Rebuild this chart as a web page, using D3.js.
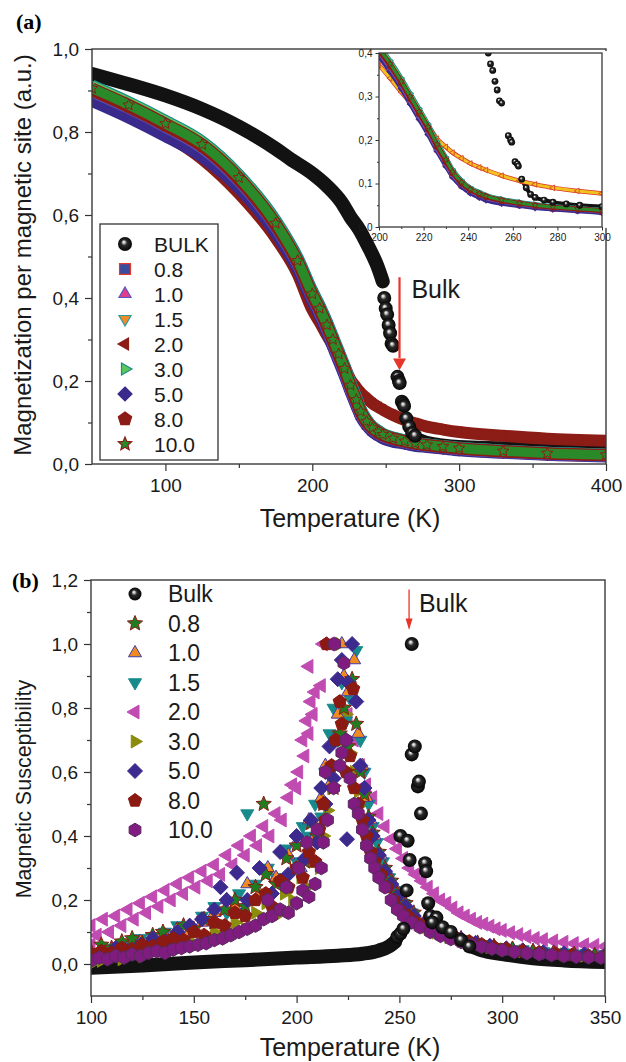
<!DOCTYPE html>
<html>
<head>
<meta charset="utf-8">
<script src="https://cdn.jsdelivr.net/npm/d3@7"></script>
<style>
  body { margin: 0; background: #fff; }
  svg { display: block; }
</style>
</head>
<body>
<div id="chart"></div>
<script>
'use strict';

// ---------- panel (a): magnetization vs temperature ----------
var tempA = [50, 75, 100, 125, 150, 175, 190, 200, 205, 210, 214, 218, 222, 226, 230, 233, 237, 241, 245, 248, 255, 263, 270, 278, 289, 300, 330, 360, 400];
var magA08 = [.885, .845, .80, .75, .672, .562, .474, .396, .36, .322, .287, .252, .217, .178, .143, .117, .095, .08, .07, .064, .056, .05, .046, .042, .038, .034, .028, .023, .019];
var magA1  = [.898, .858, .813, .762, .682, .572, .482, .402, .366, .326, .29, .255, .22, .18, .146, .12, .098, .083, .073, .067, .059, .053, .048, .044, .04, .036, .029, .024, .02];
var magA15 = [.91, .87, .825, .775, .695, .585, .495, .415, .38, .34, .305, .27, .234, .194, .158, .13, .106, .089, .079, .072, .063, .056, .051, .047, .043, .039, .032, .027, .023];
var magA2  = [.89, .845, .795, .735, .652, .545, .458, .372, .342, .31, .286, .262, .234, .203, .184, .171, .158, .146, .137, .131, .118, .106, .098, .09, .083, .077, .068, .061, .056];
var magA3  = [.912, .872, .827, .777, .697, .587, .497, .417, .382, .342, .307, .272, .236, .196, .16, .132, .107, .09, .08, .073, .064, .057, .052, .047, .043, .039, .032, .027, .023];
var magA5  = [.875, .835, .79, .74, .665, .557, .47, .392, .357, .318, .283, .248, .213, .175, .14, .115, .093, .078, .068, .062, .054, .049, .044, .041, .037, .033, .027, .022, .018];
var magA8  = [.90, .86, .815, .765, .685, .575, .485, .405, .37, .33, .295, .26, .225, .185, .15, .124, .1, .085, .075, .069, .06, .054, .049, .045, .041, .037, .03, .025, .021];
var magA10 = [.905, .865, .82, .77, .69, .58, .49, .41, .375, .335, .30, .265, .23, .19, .155, .127, .103, .087, .077, .071, .062, .055, .05, .046, .042, .038, .031, .026, .022];

var bulkLowT = [50, 75, 100, 125, 150, 175, 185, 200, 210, 220, 226, 232, 238, 244, 248];
var bulkLowM = [.94, .915, .888, .855, .813, .76, .735, .70, .67, .63, .595, .565, .525, .48, .44];
var bulkHighT = [249, 250, 251, 252, 253, 254, 255, 258, 259, 259.5, 261, 262, 262.5, 264, 266, 268, 270, 274, 278, 284, 290, 300, 330, 360, 400];
var bulkHighM = [.40, .375, .36, .335, .315, .29, .285, .21, .2, .195, .15, .145, .14, .11, .09, .075, .068, .062, .057, .053, .05, .047, .044, .041, .039];

var ticksAx = [100, 200, 300, 400];
var ticksAy = [0, 0.2, 0.4, 0.6, 0.8, 1.0];
var ticksInX = [200, 220, 240, 260, 280, 300];
var ticksInY = [0, 0.1, 0.2, 0.3, 0.4];
var labelsA = ["BULK", "0.8", "1.0", "1.5", "2.0", "3.0", "5.0", "8.0", "10.0"];

// ---------- panel (b): susceptibility vs temperature ----------
var chiBulkBand = [[100, -.012], [125, -.005], [150, .005], [175, .012], [200, .02], [220, .026], [232, .032], [240, .042], [245, .055], [248, .07]];
var chiBulkDots = [[249, .085], [250.5, .095], [252, .11], [256, 1.0], [256, .655], [257.5, .68], [259, .555], [259.5, .57], [260.5, .47], [250.5, .40], [254, .385], [255, .325], [262.5, .315], [263, .29], [253.5, .23], [264, .19], [265, .15], [268, .145], [266, .13], [271, .115], [275, .1], [280, .075], [284, .055]];
var chiBulkTail = [[284, .055], [290, .04], [300, .028], [315, .015], [330, .008], [350, .003]];

var chi08 = [[100, .04], [105, .06], [110, .05], [115, .07], [120, .08], [125, .065], [130, .09], [135, .1], [140, .085], [145, .12], [150, .11], [155, .14], [160, .13], [165, .17], [170, .2], [175, .18], [180, .24], [184, .5], [185, .28], [190, .25], [195, .33], [200, .37], [204, .32], [207, .44], [210, .4], [213, .5], [216, .6], [218, .55], [221, .72], [223, .8], [225, .68], [227, .89], [229, .75], [231, .6], [233, .53], [235, .46], [237, .41], [240, .35], [243, .3], [246, .26], [249, .22], [253, .19], [257, .16], [262, .13], [267, .112], [273, .095], [280, .08], [288, .066], [296, .055], [305, .047], [315, .04], [325, .035], [335, .03], [345, .027], [350, .026]];
var chi1 = [[100, .02], [106, .04], [112, .03], [118, .05], [124, .07], [130, .06], [136, .09], [142, .11], [148, .1], [154, .13], [160, .16], [166, .2], [170, .18], [176, .25], [182, .22], [186, .3], [190, .27], [196, .34], [200, .38], [202, .3], [206, .45], [209, .4], [212, .52], [214, .62], [216, .56], [218, .7], [220, .78], [222, 1.0], [223, .9], [225, .85], [228, .95], [230, .72], [232, .62], [234, .52], [236, .45], [238, .4], [241, .34], [244, .29], [247, .25], [250, .21], [254, .18], [258, .15], [263, .125], [268, .11], [274, .093], [280, .08], [288, .066], [296, .056], [305, .048], [315, .041], [325, .036], [335, .032], [345, .029], [350, .028]];
var chi15 = [[100, .03], [106, .05], [112, .04], [118, .06], [124, .08], [130, .07], [136, .1], [142, .12], [148, .11], [154, .15], [160, .18], [166, .16], [172, .22], [176, .47], [180, .25], [186, .3], [190, .27], [195, .36], [200, .32], [203, .43], [206, .4], [209, .5], [212, .46], [214, .6], [216, .72], [218, .8], [220, .7], [222, .88], [224, .76], [226, .83], [229, .98], [231, .7], [233, .6], [235, .5], [237, .43], [239, .38], [242, .32], [245, .27], [248, .23], [252, .19], [256, .16], [261, .13], [266, .112], [272, .096], [278, .082], [285, .07], [292, .06], [300, .052], [310, .045], [320, .039], [330, .035], [340, .032], [350, .03]];
var chi2 = [[100, .06], [100, .12], [103, .09], [106, .14], [109, .1], [112, .15], [115, .12], [118, .17], [121, .14], [124, .19], [127, .16], [130, .21], [133, .18], [136, .23], [139, .2], [142, .25], [145, .22], [148, .27], [151, .24], [154, .29], [157, .26], [160, .31], [163, .28], [166, .34], [169, .31], [172, .37], [175, .34], [178, .4], [181, .37], [184, .43], [187, .4], [190, .47], [193, .45], [196, .52], [198, .56], [200, .55], [201, .6], [203, .7], [204, .65], [205, .76], [206, .72], [207, .82], [208, .78], [209, .85], [206, .93], [212, .87], [213, 1.0], [216, 1.0], [225, .78], [228, .7], [231, .62], [234, .56], [237, .52], [240, .47], [243, .43], [246, .39], [249, .36], [252, .33], [255, .3], [258, .28], [261, .26], [264, .24], [267, .22], [270, .2], [273, .19], [276, .175], [279, .16], [282, .15], [285, .14], [288, .13], [291, .125], [294, .118], [297, .11], [300, .105], [304, .098], [308, .092], [312, .086], [316, .08], [320, .076], [325, .072], [330, .068], [335, .064], [340, .06], [345, .058], [350, .055]];
var chi3 = [[100, .0], [105, .01], [110, .02], [115, .015], [120, .03], [125, .025], [130, .04], [135, .045], [140, .05], [145, .06], [150, .065], [155, .08], [160, .1], [165, .09], [170, .13], [175, .11], [180, .16], [185, .19], [190, .15], [194, .22], [198, .2], [202, .27], [205, .24], [208, .32], [211, .3], [213, .4], [215, .48], [217, .55], [219, .62], [221, 1.0], [222, .7], [224, .78], [226, .66], [228, .6], [230, .54], [232, .5], [234, .44], [236, .4], [238, .35], [241, .3], [244, .26], [247, .22], [250, .19], [254, .16], [258, .135], [263, .115], [268, .098], [274, .084], [280, .072], [287, .062], [294, .053], [301, .046], [310, .04], [320, .034], [330, .03], [340, .026], [350, .024]];
var chi5 = [[100, .02], [106, .03], [112, .05], [118, .04], [124, .06], [130, .08], [136, .07], [142, .1], [148, .12], [154, .14], [160, .17], [163, .24], [166, .2], [171, .285], [176, .2], [182, .3], [188, .22], [192, .35], [196, .28], [200, .4], [204, .33], [207, .45], [210, .38], [212, .55], [214, .5], [216, .68], [218, .58], [220, .89], [222, .95], [224, .7], [224.5, .39], [225, .88], [227, 1.0], [229, .82], [231, .62], [233, .55], [235, .45], [237, .4], [240, .34], [243, .29], [246, .25], [249, .21], [253, .18], [257, .15], [262, .125], [268, .105], [274, .09], [280, .078], [287, .066], [294, .057], [302, .049], [310, .043], [320, .037], [330, .033], [340, .03], [350, .027]];
var chi8 = [[100, .03], [105, .04], [110, .035], [115, .05], [120, .045], [125, .06], [130, .055], [135, .07], [140, .08], [145, .075], [150, .1], [155, .09], [160, .13], [165, .12], [170, .16], [175, .15], [180, .2], [185, .22], [188, .18], [192, .26], [196, .24], [200, .3], [203, .27], [206, .35], [209, .32], [211, .42], [213, .5], [214, .45], [214.5, 1.0], [217, .62], [219, .7], [221, .82], [222, .75], [224, .6], [226, .65], [227.5, .86], [228, .55], [230, .5], [232, .45], [234, .4], [236, .35], [238, .32], [241, .28], [244, .24], [247, .2], [250, .17], [254, .15], [258, .13], [262, .12], [267, .105], [272, .092], [278, .08], [284, .07], [290, .061], [296, .053], [302, .047], [310, .041], [318, .036], [326, .032], [334, .028], [342, .025], [350, .023]];
var chi10 = [[100, .01], [104, .02], [108, .015], [112, .025], [116, .02], [120, .03], [124, .025], [128, .035], [132, .04], [136, .035], [140, .045], [144, .05], [148, .055], [152, .06], [156, .065], [160, .075], [164, .08], [168, .09], [172, .1], [176, .11], [180, .12], [184, .14], [186, .2], [188, .15], [192, .17], [195, .24], [196, .16], [200, .19], [201, .3], [203, .23], [205, .38], [206, .21], [209, .25], [210, .42], [212, .3], [213, .38], [214, .6], [215, .45], [218, .55], [218.5, 1.0], [221, .62], [222, .66], [223, .94], [224, .7], [226, .58], [228, .5], [230, .47], [232, .42], [234, .37], [236, .33], [238, .3], [240, .27], [243, .24], [246, .2], [249, .17], [252, .15], [256, .13], [260, .115], [265, .1], [270, .088], [275, .078], [280, .069], [285, .061], [290, .054], [295, .048], [300, .043], [306, .038], [312, .034], [318, .031], [324, .028], [330, .025], [336, .023], [342, .021], [348, .02]];

var ticksBx = [100, 150, 200, 250, 300, 350];
var ticksBy = [0, 0.2, 0.4, 0.6, 0.8, 1.0, 1.2];
var labelsB = ["Bulk", "0.8", "1.0", "1.5", "2.0", "3.0", "5.0", "8.0", "10.0"];

// ---------- setup ----------
var font = '"Liberation Sans", Arial, Helvetica, sans-serif';
var svg = d3.select("#chart").append("svg")
  .attr("width", 626).attr("height", 1062)
  .style("font-family", font);
var defs = svg.append("defs");

var ball = defs.append("radialGradient").attr("id", "ball")
  .attr("cx", "50%").attr("cy", "50%").attr("r", "50%")
  .attr("fx", "40%").attr("fy", "34%");
[["0%", "#ffffff"], ["16%", "#c8c8c8"], ["42%", "#2a2a2a"], ["100%", "#050505"]].forEach(function(s) {
  ball.append("stop").attr("offset", s[0]).attr("stop-color", s[1]);
});

function clip(id, x0, y0, x1, y1) {
  defs.append("clipPath").attr("id", id).append("rect")
    .attr("x", x0).attr("y", y0).attr("width", x1 - x0).attr("height", y1 - y0);
  return "url(#" + id + ")";
}

function poly(n, r, start) {
  var pts = d3.range(n).map(function(i) {
    var a = (start + i * 360 / n) * Math.PI / 180;
    return [(r * Math.cos(a)).toFixed(2), (r * Math.sin(a)).toFixed(2)];
  });
  return "M" + pts.join("L") + "Z";
}
function starPath(r) {
  var pts = d3.range(10).map(function(i) {
    var rr = i % 2 ? r * 0.45 : r;
    var a = (-90 + i * 36) * Math.PI / 180;
    return [(rr * Math.cos(a)).toFixed(2), (rr * Math.sin(a)).toFixed(2)];
  });
  return "M" + pts.join("L") + "Z";
}
function shapePath(type, r) {
  switch (type) {
    case "square": var s = r * 0.78; return "M" + (-s) + "," + (-s) + "H" + s + "V" + s + "H" + (-s) + "Z";
    case "up": return poly(3, r, -90);
    case "down": return poly(3, r, 90);
    case "left": return poly(3, r, 180);
    case "right": return poly(3, r, 0);
    case "diamond": return poly(4, r, -90);
    case "pentagon": return poly(5, r, -90);
    case "hexagon": return poly(6, r, -90);
    case "star": return starPath(r);
  }
}

function markers(g, pts, x, y, st, r) {
  if (st.shape === "ball") {
    g.append("g").selectAll("circle").data(pts).join("circle")
      .attr("cx", function(d) { return x(d[0]); })
      .attr("cy", function(d) { return y(d[1]); })
      .attr("r", r).attr("fill", "url(#ball)");
    return;
  }
  g.append("g").selectAll("path").data(pts).join("path")
    .attr("d", shapePath(st.shape, r))
    .attr("transform", function(d) { return "translate(" + x(d[0]) + "," + y(d[1]) + ")"; })
    .attr("fill", st.fill).attr("stroke", st.stroke).attr("stroke-width", st.sw || 1);
}

function fmtComma(d) { return d3.format(".1f")(d).replace(".", ","); }

function addAxes(g, x, y, o) {
  var bottom = y.range()[0], top = y.range()[1], left = x.range()[0], right = x.range()[1];
  g.append("g").attr("transform", "translate(0," + bottom + ")")
    .call(d3.axisBottom(x).tickValues(o.xMinor).tickSize(o.minor).tickSizeOuter(0).tickFormat(""));
  g.append("g").attr("transform", "translate(" + left + ",0)")
    .call(d3.axisLeft(y).tickValues(o.yMinor).tickSize(o.minor).tickSizeOuter(0).tickFormat(""));
  g.append("g").attr("transform", "translate(0," + bottom + ")")
    .call(d3.axisBottom(x).tickValues(o.xMajor).tickSize(o.major).tickSizeOuter(0)
      .tickPadding(o.padX).tickFormat(o.xFmt));
  g.append("g").attr("transform", "translate(" + left + ",0)")
    .call(d3.axisLeft(y).tickValues(o.yMajor).tickSize(o.major).tickSizeOuter(0)
      .tickPadding(o.padY).tickFormat(o.yFmt));
  g.selectAll(".domain").remove();
  g.selectAll(".tick line").attr("stroke", "#333").attr("stroke-width", o.sw);
  g.selectAll(".tick text").attr("font-size", o.fs).attr("fill", "#1a1a1a").attr("font-family", font);
  g.append("rect").attr("x", left).attr("y", top)
    .attr("width", right - left).attr("height", bottom - top)
    .attr("fill", "none").attr("stroke", "#3a3a3a").attr("stroke-width", o.frame);
}

// ---------- panel (a) ----------
var stylesA = {
  "0.8": {shape: "square", fill: "#3b4c9f", stroke: "#e4372c"},
  "1.0": {shape: "up", fill: "#e43b8c", stroke: "#5656c8"},
  "1.5": {shape: "down", fill: "#f08a2a", stroke: "#2a9a9a"},
  "2.0": {shape: "left", fill: "#8b1c16", stroke: "#8b1c16"},
  "3.0": {shape: "right", fill: "#5cc65c", stroke: "#1a8a8a"},
  "5.0": {shape: "diamond", fill: "#3a2a8c", stroke: "#3a2a8c"},
  "8.0": {shape: "pentagon", fill: "#8b1c16", stroke: "#8b1c16"},
  "10.0": {shape: "star", fill: "#2a8a2a", stroke: "#8b1c16"},
  "BULK": {shape: "ball"}
};
var seriesA = [
  {key: "0.8", m: magA08}, {key: "2.0", m: magA2}, {key: "5.0", m: magA5},
  {key: "1.0", m: magA1}, {key: "1.5", m: magA15}, {key: "3.0", m: magA3},
  {key: "8.0", m: magA8}, {key: "10.0", m: magA10}
];

var xA = d3.scaleLinear().domain([50, 400]).range([92, 606]);
var yA = d3.scaleLinear().domain([0, 1]).range([464, 49]);

var gA = svg.append("g");
var plotA = gA.append("g").attr("clip-path", clip("clipA", 92, 49, 606, 464));

var lineA = d3.line().x(function(d) { return xA(d[0]); }).y(function(d) { return yA(d[1]); })
  .curve(d3.curveMonotoneX);

var bulkLow = bulkLowT.map(function(t, i) { return [t, bulkLowM[i]]; });
var bulkHigh = bulkHighT.map(function(t, i) { return [t, bulkHighM[i]]; });

plotA.append("path").datum(bulkLow).attr("d", lineA)
  .attr("fill", "none").attr("stroke", "#121212").attr("stroke-width", 14).attr("stroke-linecap", "round");
plotA.append("path").datum(bulkHigh.filter(function(d) { return d[0] >= 264; })).attr("d", lineA)
  .attr("fill", "none").attr("stroke", "#121212").attr("stroke-width", 9);

seriesA.forEach(function(s) {
  var st = stylesA[s.key];
  var pts = tempA.map(function(t, i) { return [t, s.m[i]]; });
  plotA.append("path").datum(pts).attr("d", lineA)
    .attr("fill", "none").attr("stroke", st.stroke).attr("stroke-width", 12);
  plotA.append("path").datum(pts).attr("d", lineA)
    .attr("fill", "none").attr("stroke", st.fill).attr("stroke-width", 9.5);
  markers(plotA, pts, xA, yA, st, 6);
});
markers(plotA, bulkHigh.filter(function(d) { return d[0] < 272; }), xA, yA, stylesA.BULK, 7);

addAxes(gA, xA, yA, {
  xMajor: ticksAx, xMinor: [150, 250, 350], yMajor: ticksAy, yMinor: [0.1, 0.3, 0.5, 0.7, 0.9],
  major: 7, minor: 4, padX: 8, padY: 6, sw: 1.2, fs: 19, frame: 1.4,
  xFmt: d3.format("d"), yFmt: fmtComma
});

// arrow + label
var arrowA = gA.append("g");
arrowA.append("line")
  .attr("x1", xA(259.4)).attr("x2", xA(259.4)).attr("y1", yA(0.45)).attr("y2", yA(0.255))
  .attr("stroke", "#e8352a").attr("stroke-width", 2.2);
arrowA.append("path")
  .attr("d", "M" + (xA(259.4) - 6.5) + "," + (yA(0.254)) + "L" + (xA(259.4) + 6.5) + "," + yA(0.254) + "L" + xA(259.4) + "," + yA(0.226) + "Z")
  .attr("fill", "#e8352a");
gA.append("text").attr("x", xA(267.5)).attr("y", yA(0.4)).attr("font-size", 25).attr("fill", "#1a1a1a").text("Bulk");

// legend (a)
var legA = gA.append("g");
legA.append("rect").attr("x", 100).attr("y", 224).attr("width", 118).attr("height", 236)
  .attr("fill", "#fff").attr("stroke", "#333").attr("stroke-width", 1.3);
labelsA.forEach(function(lab, i) {
  var yy = 244 + i * 25;
  var st = stylesA[lab];
  if (st.shape === "ball") {
    legA.append("circle").attr("cx", 125).attr("cy", yy).attr("r", 7).attr("fill", "url(#ball)");
  } else {
    legA.append("path").attr("d", shapePath(st.shape, 7)).attr("transform", "translate(125," + yy + ")")
      .attr("fill", st.fill).attr("stroke", st.stroke).attr("stroke-width", 1.2);
  }
  legA.append("text").attr("x", 154).attr("y", yy + 7.5).attr("font-size", 21).attr("fill", "#1a1a1a").text(lab);
});

// inset
var xIn = d3.scaleLinear().domain([200, 300]).range([379, 602]);
var yIn = d3.scaleLinear().domain([0, 0.4]).range([227, 53]);
var gIn = gA.append("g");
gIn.append("rect").attr("x", 379).attr("y", 51).attr("width", 229).attr("height", 177).attr("fill", "#fff");
var plotIn = gIn.append("g").attr("clip-path", clip("clipIn", 379, 53, 602, 227));
var lineIn = d3.line().x(function(d) { return xIn(d[0]); }).y(function(d) { return yIn(d[1]); })
  .curve(d3.curveMonotoneX);
var insetStyle = {"2.0": {shape: "left", fill: "#f2c21e", stroke: "#d8332a"}};
plotIn.append("path").datum(bulkHigh.filter(function(d) { return d[0] >= 264; })).attr("d", lineIn)
  .attr("fill", "none").attr("stroke", "#121212").attr("stroke-width", 4);
seriesA.forEach(function(s) {
  var st = insetStyle[s.key] || stylesA[s.key];
  var pts = tempA.map(function(t, i) { return [t, s.m[i]]; })
    .filter(function(d) { return d[0] >= 195 && d[0] <= 305; });
  plotIn.append("path").datum(pts).attr("d", lineIn)
    .attr("fill", "none").attr("stroke", st.stroke).attr("stroke-width", 4.5);
  plotIn.append("path").datum(pts).attr("d", lineIn)
    .attr("fill", "none").attr("stroke", st.fill).attr("stroke-width", 3);
  markers(plotIn, pts, xIn, yIn, Object.assign({}, st, {sw: 0.8}), 3.3);
});
markers(plotIn, bulkHigh, xIn, yIn, stylesA.BULK, 3.4);

addAxes(gIn, xIn, yIn, {
  xMajor: ticksInX, xMinor: [210, 230, 250, 270, 290], yMajor: ticksInY, yMinor: [0.05, 0.15, 0.25, 0.35],
  major: 3.5, minor: 2, padX: 3, padY: 3, sw: 1, fs: 10, frame: 1.3,
  xFmt: d3.format("d"), yFmt: fmtComma
});

gA.append("text").attr("x", 16).attr("y", 29).attr("font-size", 22).attr("font-weight", "bold")
  .attr("font-family", '"Liberation Serif", "Times New Roman", serif').text("(a)");
gA.append("text").attr("transform", "translate(31,255) rotate(-90)").attr("text-anchor", "middle")
  .attr("font-size", 24).attr("fill", "#1a1a1a").text("Magnetization per magnetic site (a.u.)");
gA.append("text").attr("x", 350).attr("y", 527).attr("text-anchor", "middle")
  .attr("font-size", 25).attr("fill", "#1a1a1a").text("Temperature (K)");

// ---------- panel (b) ----------
var stylesB = {
  "Bulk": {shape: "ball"},
  "0.8": {shape: "star", fill: "#1f7d1f", stroke: "#8b1c16", r: 8},
  "1.0": {shape: "up", fill: "#f28a22", stroke: "#3c3ca8", r: 7.5},
  "1.5": {shape: "down", fill: "#178b8b", stroke: "#178b8b", r: 7.5},
  "2.0": {shape: "left", fill: "#c04cb2", stroke: "#c04cb2", r: 8},
  "3.0": {shape: "right", fill: "#8c8c0c", stroke: "#8c8c0c", r: 7.5},
  "5.0": {shape: "diamond", fill: "#3c2a8e", stroke: "#3c2a8e", r: 7.5},
  "8.0": {shape: "pentagon", fill: "#8a1a12", stroke: "#8a1a12", r: 7},
  "10.0": {shape: "hexagon", fill: "#801c80", stroke: "#5a2a60", r: 6.8}
};
var seriesB = [
  {key: "2.0", d: chi2}, {key: "3.0", d: chi3}, {key: "1.5", d: chi15}, {key: "1.0", d: chi1},
  {key: "0.8", d: chi08}, {key: "5.0", d: chi5}, {key: "8.0", d: chi8}, {key: "10.0", d: chi10}
];

var xB = d3.scaleLinear().domain([100, 350]).range([91, 605]);
var yB = d3.scaleLinear().domain([-0.1, 1.2]).range([996, 580]);

var gB = svg.append("g");
var plotB = gB.append("g").attr("clip-path", clip("clipB", 91, 580, 605, 996));
var lineB = d3.line().x(function(d) { return xB(d[0]); }).y(function(d) { return yB(d[1]); })
  .curve(d3.curveMonotoneX);

plotB.append("path").datum(chiBulkBand).attr("d", lineB)
  .attr("fill", "none").attr("stroke", "#121212").attr("stroke-width", 14).attr("stroke-linecap", "round");
plotB.append("path").datum(chiBulkTail).attr("d", lineB)
  .attr("fill", "none").attr("stroke", "#121212").attr("stroke-width", 12).attr("stroke-linecap", "round");

seriesB.forEach(function(s) {
  var st = stylesB[s.key];
  markers(plotB, s.d, xB, yB, st, st.r);
});
markers(plotB, chiBulkDots, xB, yB, stylesB.Bulk, 7);

addAxes(gB, xB, yB, {
  xMajor: ticksBx, xMinor: [125, 175, 225, 275, 325], yMajor: ticksBy, yMinor: [0.1, 0.3, 0.5, 0.7, 0.9, 1.1],
  major: 7, minor: 4, padX: 8, padY: 6, sw: 1.2, fs: 19, frame: 1.4,
  xFmt: d3.format("d"), yFmt: fmtComma
});

var arrowB = gB.append("g");
arrowB.append("line")
  .attr("x1", xB(254.7)).attr("x2", xB(254.7)).attr("y1", yB(1.17)).attr("y2", yB(1.07))
  .attr("stroke", "#e8352a").attr("stroke-width", 1.3);
arrowB.append("path")
  .attr("d", "M" + (xB(254.7) - 3.5) + "," + yB(1.08) + "L" + (xB(254.7) + 3.5) + "," + yB(1.08) + "L" + xB(254.7) + "," + yB(1.044) + "Z")
  .attr("fill", "#e8352a");
gB.append("text").attr("x", xB(259.5)).attr("y", 612).attr("font-size", 25).attr("fill", "#1a1a1a").text("Bulk");

var legB = gB.append("g");
labelsB.forEach(function(lab, i) {
  var yy = 594 + i * 29.5;
  var st = stylesB[lab];
  if (st.shape === "ball") {
    legB.append("circle").attr("cx", 135).attr("cy", yy).attr("r", 6.5).attr("fill", "url(#ball)");
  } else {
    legB.append("path").attr("d", shapePath(st.shape, st.r)).attr("transform", "translate(135," + yy + ")")
      .attr("fill", st.fill).attr("stroke", st.stroke).attr("stroke-width", 1);
  }
  legB.append("text").attr("x", 168).attr("y", yy + 8).attr("font-size", 23).attr("fill", "#1a1a1a").text(lab);
});

gB.append("text").attr("x", 12).attr("y", 588).attr("font-size", 22).attr("font-weight", "bold")
  .attr("font-family", '"Liberation Serif", "Times New Roman", serif').text("(b)");
gB.append("text").attr("transform", "translate(31,789) rotate(-90)").attr("text-anchor", "middle")
  .attr("font-size", 21.5).attr("fill", "#1a1a1a").text("Magnetic Susceptibility");
gB.append("text").attr("x", 350).attr("y", 1056).attr("text-anchor", "middle")
  .attr("font-size", 25).attr("fill", "#1a1a1a").text("Temperature (K)");
</script>
</body>
</html>
